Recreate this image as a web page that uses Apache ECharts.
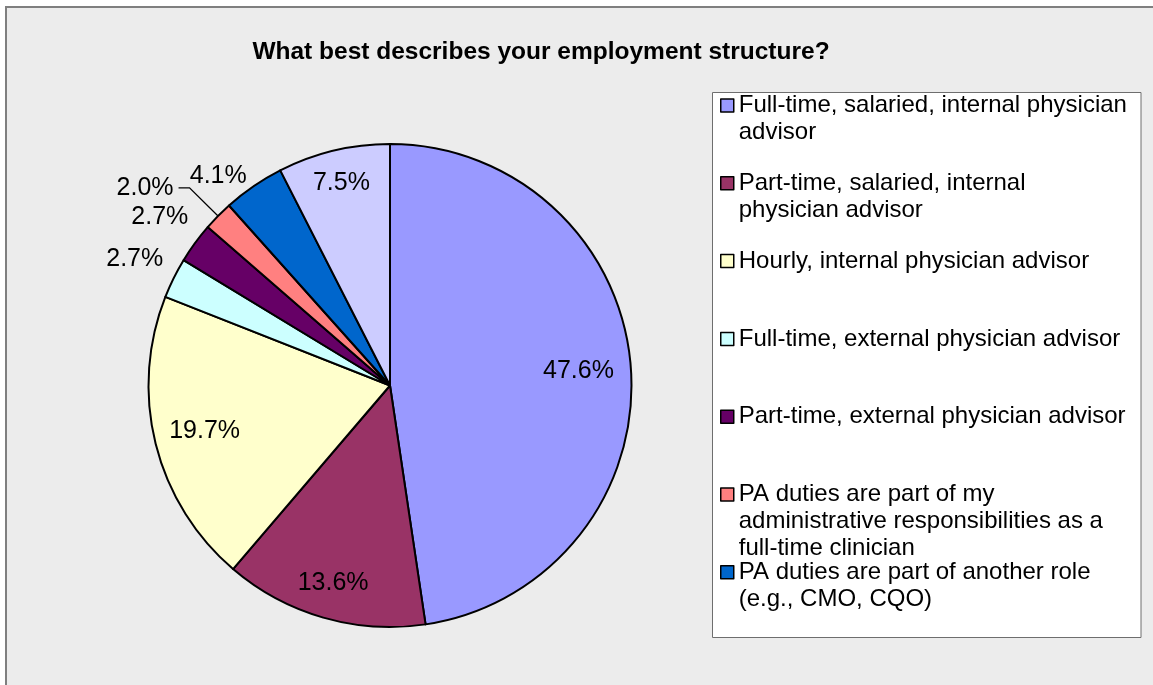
<!DOCTYPE html>
<html>
<head>
<meta charset="utf-8">
<script src="https://cdn.jsdelivr.net/npm/echarts@6/dist/echarts.min.js"></script>
<style>
  html, body { margin: 0; padding: 0; background: #ffffff; }
  #chart { width: 1153px; height: 685px; }
</style>
</head>
<body>
<div id="chart"></div>
<script>
// ---- data ----
const categories = [
  'Full-time, salaried, internal physician advisor',
  'Part-time, salaried, internal physician advisor',
  'Hourly, internal physician advisor',
  'Full-time, external physician advisor',
  'Part-time, external physician advisor',
  'PA duties are part of my administrative responsibilities as a full-time clinician',
  'PA duties are part of another role (e.g., CMO, CQO)',
  'Other'
];
const values = [47.6, 13.6, 19.7, 2.7, 2.7, 2.0, 4.1, 7.5];
const legendLabels = [
  'Full-time, salaried, internal physician\nadvisor',
  'Part-time, salaried, internal\nphysician advisor',
  'Hourly, internal physician advisor',
  'Full-time, external physician advisor',
  'Part-time, external physician advisor',
  'PA duties are part of my\nadministrative responsibilities as a\nfull-time clinician',
  'PA duties are part of another role\n(e.g., CMO, CQO)'
];
const titleText = 'What best describes your employment structure?';

// ---- styles / layout ----
const colors = ['#9999FF', '#993366', '#FFFFCC', '#CCFFFF', '#660066', '#FF8080', '#0066CC', '#CCCCFF'];
// how each value label is placed: a number = distance from the pie centre (px),
// 'leader' = outside label with a leader line, 'outside' = outside label without a line
const labelPlace = [186, 203, 188, 282, 282, 'leader', 'outside', 205];
const FONT = '"Liberation Sans", Arial, sans-serif';
const CX = 390, CY = 385.5, R = 241.5;
const LH = 27; // legend line height
const BOX = 5 * LH;

const fmt = p => p.value.toFixed(1) + '%';

// main pie
const mainData = values.map((v, i) => {
  const item = { name: categories[i], value: v, itemStyle: { color: colors[i] } };
  if (labelPlace[i] === 'leader') {
    item.label = { show: true, position: 'outside' };
    item.labelLine = { show: true, length: 40, length2: 11 };
  } else if (labelPlace[i] === 'outside') {
    item.label = { show: true, position: 'outside', distanceToLabelLine: 0 };
    item.labelLine = { show: true, length: 12, length2: 0, lineStyle: { opacity: 0 } };
  }
  return item;
});

const series = [{
  type: 'pie',
  center: [CX, CY],
  radius: [0, R],
  startAngle: 90,
  clockwise: true,
  avoidLabelOverlap: false,
  animation: false,
  silent: true,
  itemStyle: { borderColor: '#000', borderWidth: 2 },
  label: { show: false, color: '#000', fontSize: 25, fontFamily: FONT, formatter: fmt, distanceToLabelLine: 5 },
  labelLine: { show: false, lineStyle: { color: '#000', width: 1.3 } },
  emphasis: { disabled: true },
  data: mainData
}];

// transparent label rings: one per distinct label distance
const rings = [...new Set(labelPlace.filter(d => typeof d === 'number'))];
rings.forEach(d => {
  series.push({
    type: 'pie',
    center: [CX, CY],
    radius: [0, 2 * d],
    startAngle: 90,
    clockwise: true,
    avoidLabelOverlap: false,
    animation: false,
    silent: true,
    itemStyle: { color: 'rgba(0,0,0,0)', borderWidth: 0 },
    label: { show: false, position: 'inside', color: '#000', fontSize: 25, fontFamily: FONT, formatter: fmt },
    labelLine: { show: false },
    emphasis: { disabled: true },
    data: values.map((v, i) => ({
      name: categories[i] + ' ',
      value: v,
      label: { show: labelPlace[i] === d }
    }))
  });
});

// legend: every item gets the same box height, with its first line on the icon
const legendData = legendLabels.map((t, i) => {
  const n = t.split('\n').length;
  const pad = (3 - n) * LH;
  return {
    name: categories[i],
    icon: 'rect',
    textStyle: { padding: [pad, 0, pad, 0] }
  };
});

const option = {
  backgroundColor: '#ffffff',
  animation: false,
  title: {
    text: titleText,
    left: 541,
    top: 52,
    textAlign: 'center',
    textVerticalAlign: 'middle',
    padding: 0,
    textStyle: { fontFamily: FONT, fontSize: 24.5, fontWeight: 'bold', color: '#000' }
  },
  graphic: [
    { type: 'rect', z: -10, silent: true,
      shape: { x: 6, y: 7, width: 1200, height: 720 },
      style: { fill: '#ECECEC', stroke: '#7F7F7F', lineWidth: 2 } },
    { type: 'rect', z: -9, silent: true,
      shape: { x: 712.5, y: 92.5, width: 428.5, height: 545 },
      style: { fill: '#FFFFFF', stroke: '#6E6E6E', lineWidth: 1 } }
  ],
  legend: {
    orient: 'vertical',
    left: 720,
    top: 105.5 - BOX / 2,
    padding: 0,
    itemGap: 77.8 - BOX,
    itemWidth: 13,
    itemHeight: 13,
    selectedMode: false,
    itemStyle: { borderColor: '#000', borderWidth: 1.5 },
    textStyle: { fontFamily: FONT, fontSize: 24, lineHeight: LH, color: '#000' },
    formatter: name => {
      const t = legendLabels[categories.indexOf(name)];
      const n = t.split('\n').length;
      return '\n'.repeat(n - 1) + t;
    },
    data: legendData
  },
  series: series
};

const chart = echarts.init(document.getElementById('chart'), null, { renderer: 'canvas' });
chart.setOption(option);
</script>
</body>
</html>
